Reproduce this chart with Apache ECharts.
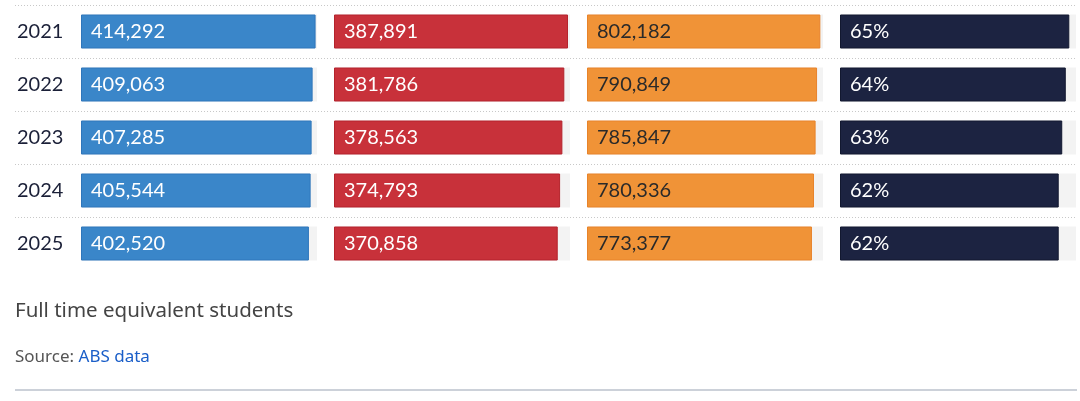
<!DOCTYPE html>
<html>
<head>
<meta charset="utf-8">
<script src="https://cdn.jsdelivr.net/npm/echarts@6/dist/echarts.min.js"></script>
<style>
  html, body { margin: 0; padding: 0; background: #fff; }
  #chart { width: 1080px; height: 401px; }
</style>
</head>
<body>
<div id="chart"></div>
<script>
  /* data */
  const years = ['2021', '2022', '2023', '2024', '2025'];
  const domesticValues = [414292, 409063, 407285, 405544, 402520];
  const otherValues = [387891, 381786, 378563, 374793, 370858];
  const totalValues = [802182, 790849, 785847, 780336, 773377];
  const shareValues = [65, 64, 63, 62, 62];
  const axisMax = [416800, 391200, 811300, 66.9];

  const font = 'Lato, "Noto Sans", sans-serif';
  const footFont = '"Noto Sans", sans-serif';
  const columns = [
    { data: domesticValues, color: '#3a86c9', border: '#2f76bb', text: '#fff', fmt: v => v.toLocaleString('en-US') },
    { data: otherValues, color: '#c8313a', border: '#b4232c', text: '#fff', fmt: v => v.toLocaleString('en-US') },
    { data: totalValues, color: '#f09337', border: '#e8832a', text: '#2a2a2a', fmt: v => v.toLocaleString('en-US') },
    { data: shareValues, color: '#1c2341', border: '#121830', text: '#fff', fmt: v => v + '%' }
  ];
  const colLeft = [81, 334, 587, 840];

  const chart = echarts.init(document.getElementById('chart'));

  const grid = colLeft.map(l => ({ left: l, width: 236, top: 5, height: 265, outerBoundsMode: 'none' }));
  // separator grid
  grid.push({ left: 15, right: 4, top: 5, height: 212, outerBoundsMode: 'none' });

  const xAxis = columns.map((c, i) => ({
    type: 'value', gridIndex: i, min: 0, max: axisMax[i], show: false
  }));
  xAxis.push({ type: 'value', gridIndex: 4, show: false });

  const yAxis = columns.map((c, i) => ({
    type: 'category', gridIndex: i, data: years, inverse: true,
    axisLine: { show: false }, axisTick: { show: false }, splitLine: { show: false },
    axisLabel: i === 0 ? {
      show: true, align: 'left', margin: 64, fontFamily: font, fontSize: 20, color: '#1b2038'
    } : { show: false }
  }));
  yAxis.push({
    type: 'category', gridIndex: 4, data: years, boundaryGap: false, inverse: true,
    axisLine: { show: false }, axisTick: { show: false }, axisLabel: { show: false },
    splitLine: { show: true, lineStyle: { color: '#c8c8c8', width: 1, type: [1, 2] } }
  });

  const series = columns.map((c, i) => ({
    type: 'bar', xAxisIndex: i, yAxisIndex: i, data: c.data, barWidth: 34,
    showBackground: true, backgroundStyle: { color: '#f3f3f3' },
    itemStyle: { color: c.color, borderColor: c.border, borderWidth: 1 },
    label: {
      show: true, position: 'insideLeft', distance: 10, fontFamily: font, fontSize: 20,
      color: c.text, formatter: p => c.fmt(p.value)
    },
    silent: true
  }));

  const option = {
    animation: false,
    backgroundColor: '#fff',
    title: [
      {
        text: 'Full time equivalent students', left: 15, top: 301, padding: 0,
        textStyle: { fontFamily: footFont, fontSize: 20.5, fontWeight: 'normal', color: '#444' }
      },
      {
        text: '{a|Source: }{b|ABS data}', left: 15, top: 349, padding: 0,
        textStyle: {
          fontWeight: 'normal',
          rich: {
            a: { fontFamily: footFont, fontSize: 17, fontWeight: 'normal', color: '#555' },
            b: { fontFamily: footFont, fontSize: 17, fontWeight: 'normal', color: '#1a5ec8' }
          }
        }
      }
    ],
    graphic: [{
      type: 'line', shape: { x1: 15, y1: 390, x2: 1077, y2: 390 },
      style: { stroke: '#ccd1d9', lineWidth: 2 }
    }],
    grid, xAxis, yAxis, series
  };

  chart.setOption(option);
</script>
</body>
</html>
